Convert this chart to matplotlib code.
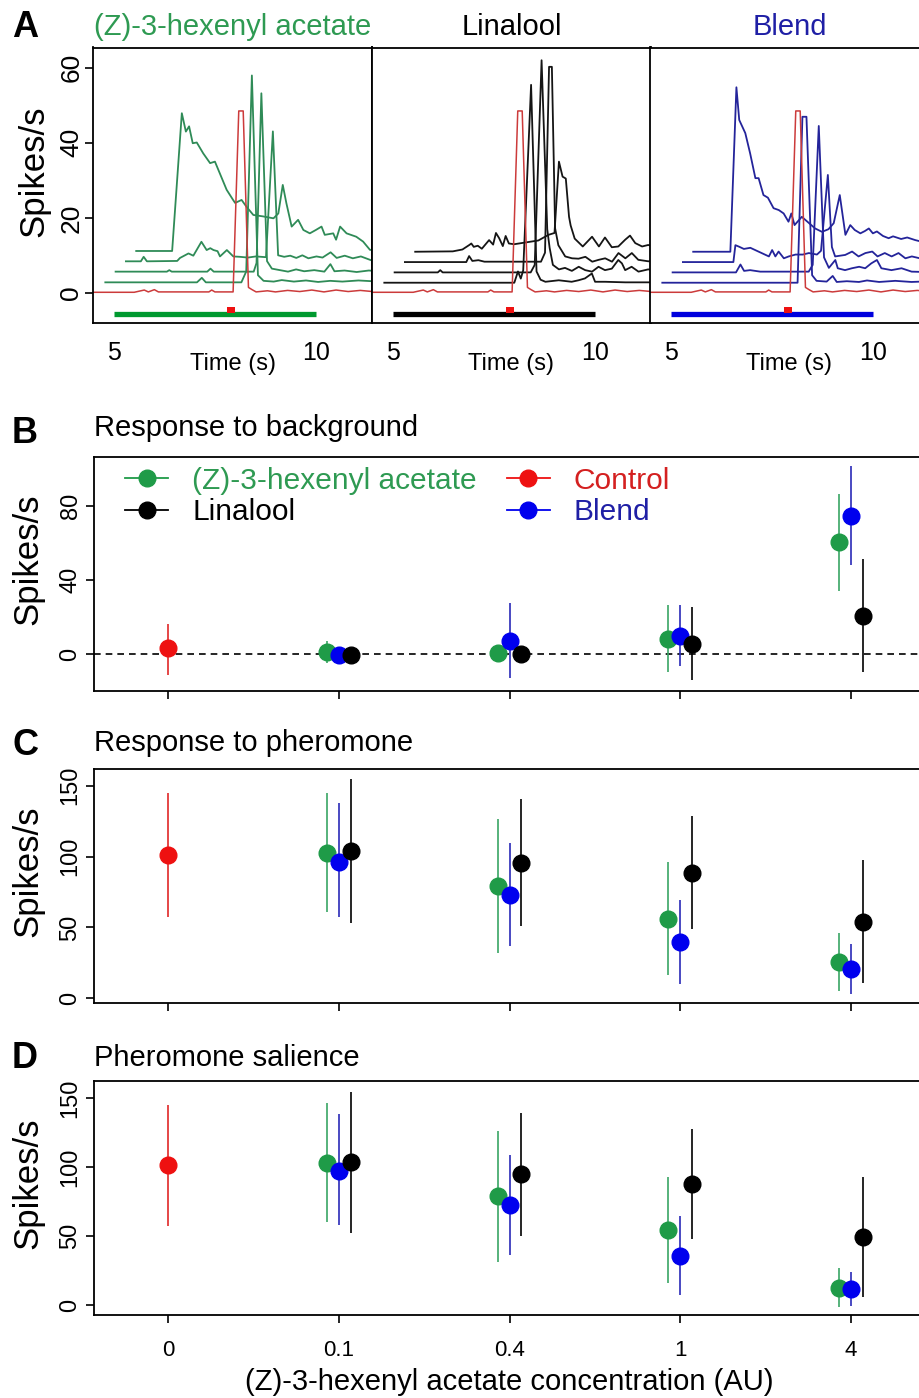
import matplotlib
matplotlib.use("Agg")
import matplotlib.pyplot as plt
from matplotlib.lines import Line2D
from matplotlib.patches import Rectangle
import numpy as np

plt.rcParams["font.family"] = ["Liberation Sans", "DejaVu Sans"]

# ---- panel A: firing-rate traces (time s, spikes/s), before waterfall offset ----
control_trace = [(4.45, 0.2), (5.5, 0.2), (5.75, 0.8), (5.85, 0.3), (6.0, 0.9), (6.1, 0.3),
                 (7.35, 0.3), (7.42, 0.8), (7.5, 0.3), (7.95, 0.3), (8.09, 48.5), (8.2, 48.5),
                 (8.33, 1.5), (8.42, 0.9), (8.52, 0.3), (8.8, 0.6), (9.0, 0.3), (9.3, 0.7),
                 (9.6, 0.4), (9.9, 0.8), (10.2, 0.3), (10.5, 0.8), (10.8, 0.4), (11.1, 0.7),
                 (11.5, 0.3)]

hex_traces = [
    [(4.53, 0.1), (6.8, 0.1), (6.92, 1.3), (7.02, 0.1), (7.9, 0.1), (8.02, 3.0), (8.16, 55.2),
     (8.31, 2.0), (8.45, 0.5), (8.7, 0.3), (8.9, 0.7), (9.2, 0.3), (9.5, 0.6), (9.8, 0.2),
     (10.1, 0.5), (10.4, 0.3), (10.8, 0.6), (11.3, 0.3)],
    [(4.53, 0.2), (5.8, 0.2), (5.86, 0.6), (5.92, 0.2), (6.8, 0.2), (6.88, 1.0), (6.96, 0.2),
     (7.95, 0.2), (8.02, 2.5), (8.14, 47.7), (8.28, 3.0), (8.4, 1.0), (8.6, 0.6), (8.8, 0.2),
     (9.0, 0.8), (9.2, 0.3), (9.45, 0.6), (9.7, 0.2), (9.85, 2.2), (9.95, 0.3), (10.2, 0.5),
     (10.5, 0.1), (10.8, 0.5), (11.2, 0.2)],
    [(4.53, 0.2), (4.9, 0.2), (4.97, 1.4), (5.05, 0.2), (5.8, 0.3), (5.87, 1.1), (6.08, 2.3),
     (6.2, 1.7), (6.4, 5.4), (6.53, 3.2), (6.62, 3.7), (6.7, 3.2), (6.8, 2.9), (6.86, 1.5),
     (7.03, 3.2), (7.19, 1.5), (7.35, 1.4), (7.55, 1.2), (7.75, 1.5), (8.0, 1.3), (8.17, 34.8),
     (8.3, 1.8), (8.45, 1.4), (8.6, 1.7), (8.75, 1.1), (8.9, 1.8), (9.05, 1.0), (9.25, 1.5),
     (9.4, 1.2), (9.6, 2.6), (9.75, 1.1), (9.95, 1.7), (10.15, 1.0), (10.35, 1.5), (10.6, 0.5),
     (11.0, 0.5)],
    [(4.53, 0.2), (5.42, 0.2), (5.66, 36.9), (5.76, 32.0), (5.84, 33.4), (5.93, 28.9),
     (6.03, 29.1), (6.19, 26.2), (6.36, 23.6), (6.48, 24.0), (6.6, 20.9), (6.77, 16.5),
     (6.93, 13.8), (6.98, 13.0), (7.14, 13.8), (7.26, 12.0), (7.43, 9.8), (7.68, 9.4),
     (7.93, 8.9), (8.05, 10.2), (8.16, 17.8), (8.25, 12.9), (8.38, 6.7), (8.54, 8.5),
     (8.67, 5.8), (8.83, 4.9), (8.98, 5.8), (9.12, 6.7), (9.2, 4.5), (9.41, 4.9), (9.48, 3.2),
     (9.58, 6.7), (9.74, 4.9), (9.98, 4.0), (10.15, 2.7), (10.32, 0.5), (10.6, 0.3)],
]

lin_traces = [
    [(4.53, 0.0), (7.75, 0.0), (7.84, 3.0), (7.91, 1.1), (7.97, 3.3), (8.165, 52.7), (8.3, 3.0),
     (8.4, 0.8), (8.52, 0.25), (8.85, 0.65), (9.17, 0.25), (9.34, 0.65), (9.5, 1.15),
     (9.67, 2.45), (9.75, 0.25), (10.0, 0.25), (10.5, 0.1), (11.2, 0.1)],
    [(4.53, 0.0), (5.6, 0.0), (5.66, 0.6), (5.72, 0.0), (7.9, 0.0), (8.0, 2.0), (8.17, 56.5),
     (8.31, 11.5), (8.37, 6.5), (8.45, 2.0), (8.6, 0.8), (8.75, 1.2), (8.92, 0.4), (9.09, 1.5),
     (9.25, 0.6), (9.42, 0.2), (9.58, 1.5), (9.74, 0.6), (9.91, 1.0), (10.07, 3.3), (10.16, 2.4),
     (10.24, 0.6), (10.4, 1.5), (10.57, 0.2), (10.81, 0.8), (11.0, 0.5)],
    [(4.53, 0.0), (6.05, 0.0), (6.12, 1.6), (6.2, 0.3), (6.35, 0.5), (6.5, 0.1), (7.9, 0.1),
     (8.0, 2.5), (8.1, 52.0), (8.17, 52.0), (8.25, 9.0), (8.33, 4.5), (8.5, 1.5), (8.67, 1.0),
     (8.83, 0.9), (9.0, 1.4), (9.17, 0.1), (9.33, 0.6), (9.49, 1.0), (9.66, 0.1), (9.82, 2.4),
     (9.99, 1.0), (10.15, 2.4), (10.31, 0.6), (10.56, 0.2), (10.8, 0.5)],
    [(4.53, 0.0), (5.46, 0.1), (5.7, 0.6), (5.87, 1.8), (5.92, 2.2), (5.98, 1.3), (6.08, 1.6),
     (6.18, 0.8), (6.36, 3.1), (6.46, 1.9), (6.53, 5.0), (6.61, 3.6), (6.70, 1.5), (6.77, 4.2),
     (6.85, 2.2), (6.98, 2.0), (7.28, 2.5), (7.58, 3.0), (7.83, 4.5), (7.98, 5.0), (8.09, 24.0),
     (8.18, 20.0), (8.26, 19.5), (8.34, 9.3), (8.38, 7.0), (8.48, 3.5), (8.68, 1.4), (8.91, 4.0),
     (9.08, 1.4), (9.23, 3.8), (9.4, 1.2), (9.56, 1.4), (9.73, 3.2), (9.85, 4.3), (9.98, 2.3),
     (10.15, 1.4), (10.3, 1.8), (10.6, 1.0)],
]

blend_traces = [
    [(4.53, 0.0), (7.88, 0.0), (8.0, 44.2), (8.1, 44.2), (8.24, 2.0), (8.35, 0.5), (8.6, 0.3),
     (8.75, 1.8), (8.85, 0.2), (9.1, 0.4), (9.4, 0.2), (9.6, 0.6), (9.9, 0.2), (10.3, 0.5),
     (10.7, 0.2), (11.2, 0.4)],
    [(4.53, 0.0), (6.1, 0.0), (6.21, 2.1), (6.3, 0.4), (6.45, 0.6), (6.7, 0.2), (7.9, 0.2),
     (8.0, 2.0), (8.15, 39.0), (8.28, 4.0), (8.4, 1.2), (8.56, 3.3), (8.62, 1.1), (8.8, 0.6),
     (8.97, 1.1), (9.15, 1.5), (9.3, 1.1), (9.45, 2.4), (9.59, 3.3), (9.7, 1.1), (9.95, 0.6),
     (10.2, 1.1), (10.45, 0.2), (10.8, 0.1)],
    [(4.53, 0.0), (5.78, 0.0), (5.83, 4.5), (5.92, 4.1), (6.04, 3.5), (6.2, 3.8), (6.4, 2.8),
     (6.66, 1.5), (6.74, 3.2), (6.82, 1.5), (6.9, 2.8), (7.03, 1.0), (7.15, 1.5), (7.32, 2.0),
     (7.5, 2.0), (7.65, 2.4), (7.85, 2.0), (7.95, 3.0), (8.12, 23.2), (8.22, 4.0), (8.3, 1.5),
     (8.55, 1.9), (8.72, 2.8), (8.88, 1.5), (9.05, 2.4), (9.22, 2.8), (9.35, 1.5), (9.53, 2.4),
     (9.7, 1.5), (9.87, 2.4), (10.04, 1.0), (10.2, 1.5), (10.4, 1.0), (10.6, 1.2)],
    [(4.53, 0.0), (5.45, 0.0), (5.6, 43.8), (5.67, 35.1), (5.82, 31.6), (5.94, 26.2),
     (6.07, 19.6), (6.15, 19.6), (6.27, 15.1), (6.38, 14.4), (6.52, 11.6), (6.65, 11.1),
     (6.77, 10.2), (6.89, 8.0), (6.96, 10.2), (7.04, 7.1), (7.22, 9.3), (7.38, 7.8),
     (7.55, 6.2), (7.72, 5.3), (7.88, 6.0), (8.01, 7.6), (8.16, 15.1), (8.3, 4.5), (8.42, 7.1),
     (8.53, 5.8), (8.67, 4.9), (8.78, 5.5), (8.88, 6.2), (8.98, 4.9), (9.08, 5.4), (9.23, 4.2),
     (9.37, 3.6), (9.48, 4.1), (9.68, 3.4), (9.83, 3.8), (10.03, 3.1), (10.18, 2.7), (10.4, 2.5)],
]

odour_window = (5.0, 10.0)
pheromone_pulse = (7.8, 8.0)

# ---- panels B-D: mean and interval per concentration ----
concentrations = ["0", "0.1", "0.4", "1", "4"]

bg_control = (3.2, -11.1, 16.2)
bg_hex_mean = [1.0, 0.9, 8.5, 60.4]
bg_hex_lo = [-4.5, -3.0, -9.7, 34.2]
bg_hex_hi = [7.0, 4.5, 26.6, 86.5]
bg_blend_mean = [-0.4, 7.4, 10.1, 74.6]
bg_blend_lo = [-5.0, -12.9, -6.3, 48.0]
bg_blend_hi = [4.0, 27.9, 26.6, 101.6]
bg_lin_mean = [-0.4, 0.0, 5.4, 20.9]
bg_lin_lo = [-3.0, -3.0, -13.8, -9.7]
bg_lin_hi = [3.0, 3.0, 25.5, 51.4]

ph_control = (101.1, 57.1, 144.6)
ph_hex_mean = [102.7, 79.2, 56.2, 25.4]
ph_hex_lo = [60.7, 31.7, 16.5, 5.4]
ph_hex_hi = [145.0, 126.5, 96.4, 45.9]
ph_blend_mean = [96.4, 72.9, 39.5, 20.7]
ph_blend_lo = [57.6, 36.9, 9.9, 3.1]
ph_blend_hi = [137.5, 109.3, 69.4, 38.1]
ph_lin_mean = [103.9, 95.7, 88.6, 53.6]
ph_lin_lo = [53.4, 51.0, 48.7, 10.6]
ph_lin_hi = [154.7, 140.4, 128.6, 97.6]

sal_control = (101.6, 57.3, 145.2)
sal_hex_mean = [103.3, 79.1, 54.4, 12.6]
sal_hex_lo = [60.0, 31.5, 15.7, -1.2]
sal_hex_hi = [146.4, 126.5, 93.2, 27.1]
sal_blend_mean = [97.5, 72.6, 35.8, 11.4]
sal_blend_lo = [58.1, 36.3, 7.3, -0.7]
sal_blend_hi = [138.6, 108.9, 64.8, 23.7]
sal_lin_mean = [103.6, 95.1, 87.6, 49.1]
sal_lin_lo = [52.5, 50.1, 47.7, 6.0]
sal_lin_hi = [154.9, 139.1, 127.5, 93.2]

# ---- style ----
W, H = 919, 1398
TRACE_DT, TRACE_DY = 0.255, 2.75
GREEN, BLUE, RED, BLACK = "#1f9b48", "#0000ee", "#ee1111", "#000000"
GREEN_ERR, BLUE_ERR, RED_ERR = "#3aa565", "#2a2ab8", "#e02828"
TRACE_GREEN, TRACE_BLUE, TRACE_BLACK, TRACE_RED = "#2f8b57", "#24249a", "#151515", "#cc3b3b"
STIM_GREEN, STIM_BLUE = "#00992f", "#0000dd"
TEXT_GREEN, TEXT_BLUE, TEXT_RED = "#2e9a52", "#1f1fa5", "#d42020"
MS = 12
OFFSET = 0.07

fig = plt.figure(figsize=(W / 100, H / 100), dpi=100)


def px_axes(x0, y0, x1, y1):
    return fig.add_axes([x0 / W, 1 - y1 / H, (x1 - x0) / W, (y1 - y0) / H])


def px_text(x, y, s, **kw):
    fig.text(x / W, 1 - y / H, s, **kw)


def style_box(ax, lw=1.3):
    for sp in ax.spines.values():
        sp.set_linewidth(lw)


# ---- panel A ----
odours = [
    ("(Z)-3-hexenyl acetate", hex_traces, TRACE_GREEN, STIM_GREEN, TEXT_GREEN),
    ("Linalool", lin_traces, TRACE_BLACK, BLACK, BLACK),
    ("Blend", blend_traces, TRACE_BLUE, STIM_BLUE, TEXT_BLUE),
]
a_left = [93, 372, 650]
for i, (name, traces, tcol, scol, namecol) in enumerate(odours):
    ax = px_axes(a_left[i], 47.5, a_left[i] + 279, 322.7)
    for k, trace in enumerate(traces, start=1):
        t, v = np.array(trace).T
        ax.plot(t + k * TRACE_DT, v + k * TRACE_DY, color=tcol, lw=1.3)
    ct, cv = np.array(control_trace).T
    ax.plot(ct, cv, color=TRACE_RED, lw=1.1)
    ax.plot(odour_window, [-5.6, -5.6], color=scol, lw=3.8, solid_capstyle="butt")
    ax.add_patch(Rectangle((pheromone_pulse[0], -5.4), pheromone_pulse[1] - pheromone_pulse[0],
                           1.8, color="#ee1111", lw=0, zorder=3))
    ax.set_xlim(4.48, 11.39)
    ax.set_ylim(-7.9, 65.4)
    ax.set_xticks([5, 10])
    ax.tick_params(axis="x", length=0, labelsize=18, pad=13)
    ax.set_xlabel("Time (s)", fontsize=17)
    ax.xaxis.set_label_coords(0.5, -30 / 275)
    if i == 0:
        ax.set_yticks([0, 20, 40, 60])
        ax.tick_params(axis="y", length=6, width=1.2, labelsize=19, pad=1, labelrotation=90)
        for lab in ax.get_yticklabels():
            lab.set_va("center")
        ax.set_ylabel("Spikes/s", fontsize=25, va="center")
        ax.yaxis.set_label_coords((34 - 93) / 279, 0.5 + 14 / 275)
    else:
        ax.set_yticks([])
    ax.set_title(name, color=namecol, fontsize=21, pad=9)
    style_box(ax)

# ---- panels B-D ----
panels = [
    ("B", "Response to background", (456.7, 691), (-19.8, 106.6), [0, 40, 80],
     bg_control, (bg_hex_mean, bg_hex_lo, bg_hex_hi), (bg_blend_mean, bg_blend_lo, bg_blend_hi),
     (bg_lin_mean, bg_lin_lo, bg_lin_hi), 443, 436),
    ("C", "Response to pheromone", (769, 1003.3), (-3.5, 161.8), [0, 50, 100, 150],
     ph_control, (ph_hex_mean, ph_hex_lo, ph_hex_hi), (ph_blend_mean, ph_blend_lo, ph_blend_hi),
     (ph_lin_mean, ph_lin_lo, ph_lin_hi), 755, 751),
    ("D", "Pheromone salience", (1080.7, 1315), (-7.3, 162.8), [0, 50, 100, 150],
     sal_control, (sal_hex_mean, sal_hex_lo, sal_hex_hi),
     (sal_blend_mean, sal_blend_lo, sal_blend_hi), (sal_lin_mean, sal_lin_lo, sal_lin_hi),
     1068, 1066),
]

xpos = np.arange(len(concentrations))
for letter, title, (y0, y1), ylim, yticks, ctrl, hexd, blendd, lind, ly, ty in panels:
    ax = px_axes(94, y0, 925, y1)
    if letter == "B":
        ax.axhline(0, color=BLACK, lw=1.2, ls=(0, (4, 3)), zorder=1)
    m, lo, hi = ctrl
    ax.errorbar([xpos[0]], [m], yerr=[[m - lo], [hi - m]], fmt="none", ecolor=RED_ERR,
                elinewidth=1.2, zorder=2)
    ax.plot([xpos[0]], [m], "o", color=RED, ms=MS, zorder=3)
    for (mean, low, high), dx, col, ecol in [(hexd, -OFFSET, GREEN, GREEN_ERR),
                                            (blendd, 0.0, BLUE, BLUE_ERR),
                                            (lind, OFFSET, BLACK, BLACK)]:
        mean, low, high = map(np.array, (mean, low, high))
        x = xpos[1:] + dx
        ax.errorbar(x, mean, yerr=[mean - low, high - mean], fmt="none", ecolor=ecol,
                    elinewidth=1.2, zorder=2)
        ax.plot(x, mean, "o", color=col, ms=MS, zorder=3)
    ax.set_xlim(-0.433, 4.433)
    ax.set_ylim(*ylim)
    ax.set_xticks(xpos)
    ax.set_yticks(yticks)
    ax.tick_params(axis="both", length=6, width=1.2, labelsize=16)
    ax.tick_params(axis="y", labelrotation=90, pad=3, labelsize=17)
    for lab in ax.get_yticklabels():
        lab.set_va("center")
    if letter == "D":
        ax.set_xticklabels(concentrations)
        ax.tick_params(axis="x", pad=12)
        ax.set_xlabel("(Z)-3-hexenyl acetate concentration (AU)", fontsize=21)
        ax.xaxis.set_label_coords(0.5, -(1368 - 1315) / (y1 - y0))
    else:
        ax.tick_params(axis="x", labelbottom=False)
    ax.set_ylabel("Spikes/s", fontsize=25, va="center")
    ax.yaxis.set_label_coords((28 - 94) / 831, 0.5 + 15 / (y1 - y0))
    style_box(ax)
    px_text(12, ly, letter, fontsize=26, fontweight="bold", va="baseline")
    px_text(94, ty, title, fontsize=21, va="baseline")

    if letter == "B":
        handles = [Line2D([], [], color=c, marker="o", ms=MS, lw=1.3)
                   for c in (GREEN, BLACK, RED, BLUE)]
        labels = ["(Z)-3-hexenyl acetate", "Linalool", "Control", "Blend"]
        ax.legend(handles, labels, ncol=2, loc="upper left",
                  bbox_to_anchor=((125 - 94) / 831, 1 - 10 / 234.3), frameon=False,
                  fontsize=21.5, handlelength=1.45, handletextpad=0.8, columnspacing=1.0,
                  labelspacing=0.12, borderpad=0, borderaxespad=0,
                  labelcolor=[TEXT_GREEN, BLACK, TEXT_RED, TEXT_BLUE])

px_text(12, 37, "A", fontsize=26, fontweight="bold", va="baseline")

fig.savefig("out.png", dpi=100)
